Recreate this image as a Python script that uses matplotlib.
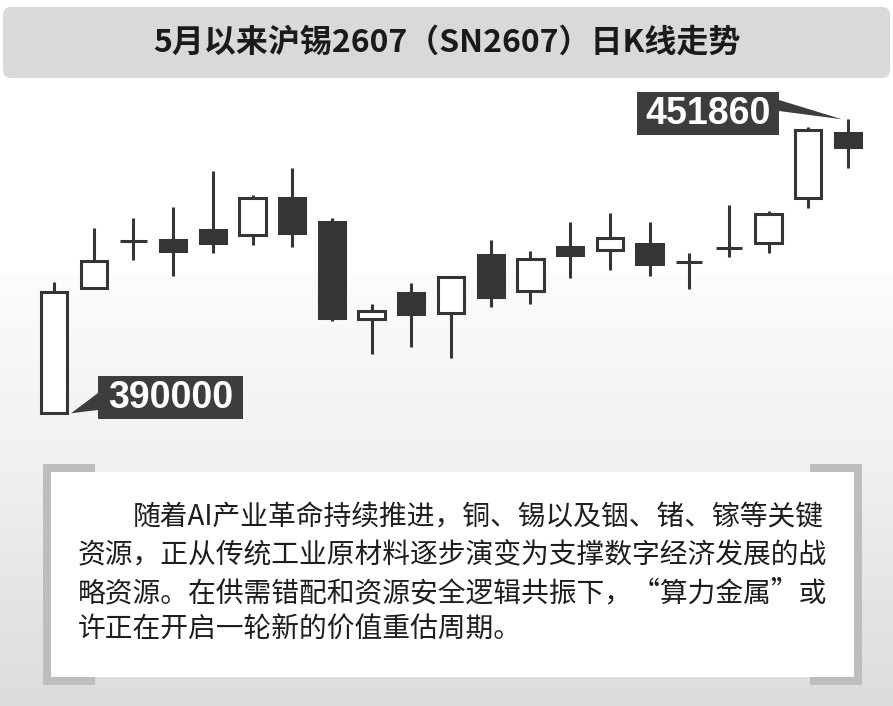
import numpy as np
import matplotlib
matplotlib.use('Agg')
import matplotlib.pyplot as plt
from matplotlib.patches import Rectangle, FancyBboxPatch, Polygon

plt.rcParams['font.family'] = ['Noto Sans CJK SC', 'DejaVu Sans']

# daily K-line data for SN2607 since May
days = list(range(21))
open_ = [390000, 416300, 426320, 426460, 428570, 427510, 435360, 430190, 409780, 415250, 411040,
         423310, 415800, 424930, 424360, 425620, 421770, 424840, 425770, 435240, 449040]
close = [415590, 422040, 426320, 424210, 425770, 435240, 427870, 410110, 411520, 410890, 418740,
         414530, 422400, 423370, 426820, 421410, 421770, 424840, 431930, 449610, 445970]
high = [417690, 429050, 431030, 433340, 441040, 435930, 441550, 431030, 412930, 417350, 418800,
        426460, 424150, 430190, 432210, 430190, 423660, 433830, 432630, 450300, 451860]
low = [390000, 416050, 422250, 418950, 423660, 425410, 425050, 409480, 402480, 404010, 401570,
       412430, 412930, 418530, 420150, 418950, 416090, 422950, 423790, 433130, 441550]

title = '5月以来沪锡2607（SN2607）日K线走势'
low_label = '390000'
high_label = '451860'
note_lines = ['随着AI产业革命持续推进，铜、锡以及铟、锗、镓等关键',
              '资源，正从传统工业原材料逐步演变为支撑数字经济发展的战',
              '略资源。在供需错配和资源安全逻辑共振下，“算力金属”或',
              '许正在开启一轮新的价值重估周期。']

W, H = 893, 706
dark = '#353535'

fig = plt.figure(figsize=(W / 100, H / 100), dpi=100)

# background layer in pixel coordinates
bg = fig.add_axes([0, 0, 1, 1])
bg.set_xlim(0, W)
bg.set_ylim(H, 0)
bg.axis('off')

yy = np.arange(H)
shade = np.where(yy < 273, 1.0,
                 np.where(yy < 460, 0.985 - (yy - 273) / (460 - 273) * 0.045,
                          0.94 - (yy - 460) / (H - 460) * 0.08))
grad = np.repeat(shade[:, None], 2, axis=1)
bg.imshow(grad, cmap='gray', vmin=0, vmax=1, extent=[0, W, H, 0], aspect='auto', zorder=0)

# title bar
bg.add_patch(FancyBboxPatch((11, 15), 871, 55, boxstyle='round,pad=8', fc='#d9d9d9', ec='none', zorder=1))
bg.text(W / 2, 43, title, fontsize=23, fontweight='bold', color='#1a1a1a', ha='center', va='center', zorder=2)

# note box with bracket corners
bracket = '#bdbdbd'
bg.add_patch(Rectangle((51, 472), 803, 205, fc='white', ec='none', zorder=1))
for x0, x1 in [(43, 95), (810, 862)]:
    bg.add_patch(Rectangle((x0, 464), x1 - x0, 8, fc=bracket, ec='none', zorder=2))
    bg.add_patch(Rectangle((x0, 677), x1 - x0, 8, fc=bracket, ec='none', zorder=2))
bg.add_patch(Rectangle((43, 464), 8, 221, fc=bracket, ec='none', zorder=2))
bg.add_patch(Rectangle((854, 464), 8, 221, fc=bracket, ec='none', zorder=2))

line_y = [517, 555, 593, 630]
for k, s in enumerate(note_lines):
    x = 133 if k == 0 else 78
    bg.text(x, line_y[k], s, fontsize=20, color='#1e1e1e', ha='left', va='center', zorder=3)

# candlestick axes
ax = fig.add_axes([14.3 / W, 1 - 460.8 / H, 873.4 / W, 380.2 / H])
ax.set_xlim(-1, 21)
ax.set_ylim(380000, 460000)
ax.axis('off')
ax.patch.set_alpha(0)

bw = 0.66
for i in days:
    o, c, h, l = open_[i], close[i], high[i], low[i]
    ax.vlines(i, l, h, color=dark, lw=2.2, zorder=2)
    if o == c:
        ax.hlines(o, i - bw / 2, i + bw / 2, color=dark, lw=2.2, zorder=3)
    else:
        fc = 'white' if c > o else dark
        ax.add_patch(Rectangle((i - bw / 2, min(o, c)), bw, abs(c - o), fc=fc, ec=dark, lw=2.2, zorder=3))

# callouts
def to_bg(x, y):
    return bg.transData.inverted().transform(ax.transData.transform((x, y)))

tip1 = to_bg(0 + bw / 2 + 0.1, low[0])
bg.add_patch(Polygon([(98, 393), (98, 410), tip1], fc='#3d3d3d', ec='none', zorder=4))
bg.add_patch(Rectangle((98, 376), 145, 43, fc='#3d3d3d', ec='none', zorder=4))
bg.text(170.5, 398, low_label, fontsize=27, fontweight='bold', family='Liberation Sans',
        color='white', ha='center', va='center', zorder=5)

tip2 = to_bg(20 - 0.15, high[20])
bg.add_patch(Polygon([(779, 100), (779, 111), tip2], fc='#3d3d3d', ec='none', zorder=4))
bg.add_patch(Rectangle((637, 92), 142, 43, fc='#3d3d3d', ec='none', zorder=4))
bg.text(708, 114, high_label, fontsize=27, fontweight='bold', family='Liberation Sans',
        color='white', ha='center', va='center', zorder=5)

fig.savefig('out.png', dpi=100)
